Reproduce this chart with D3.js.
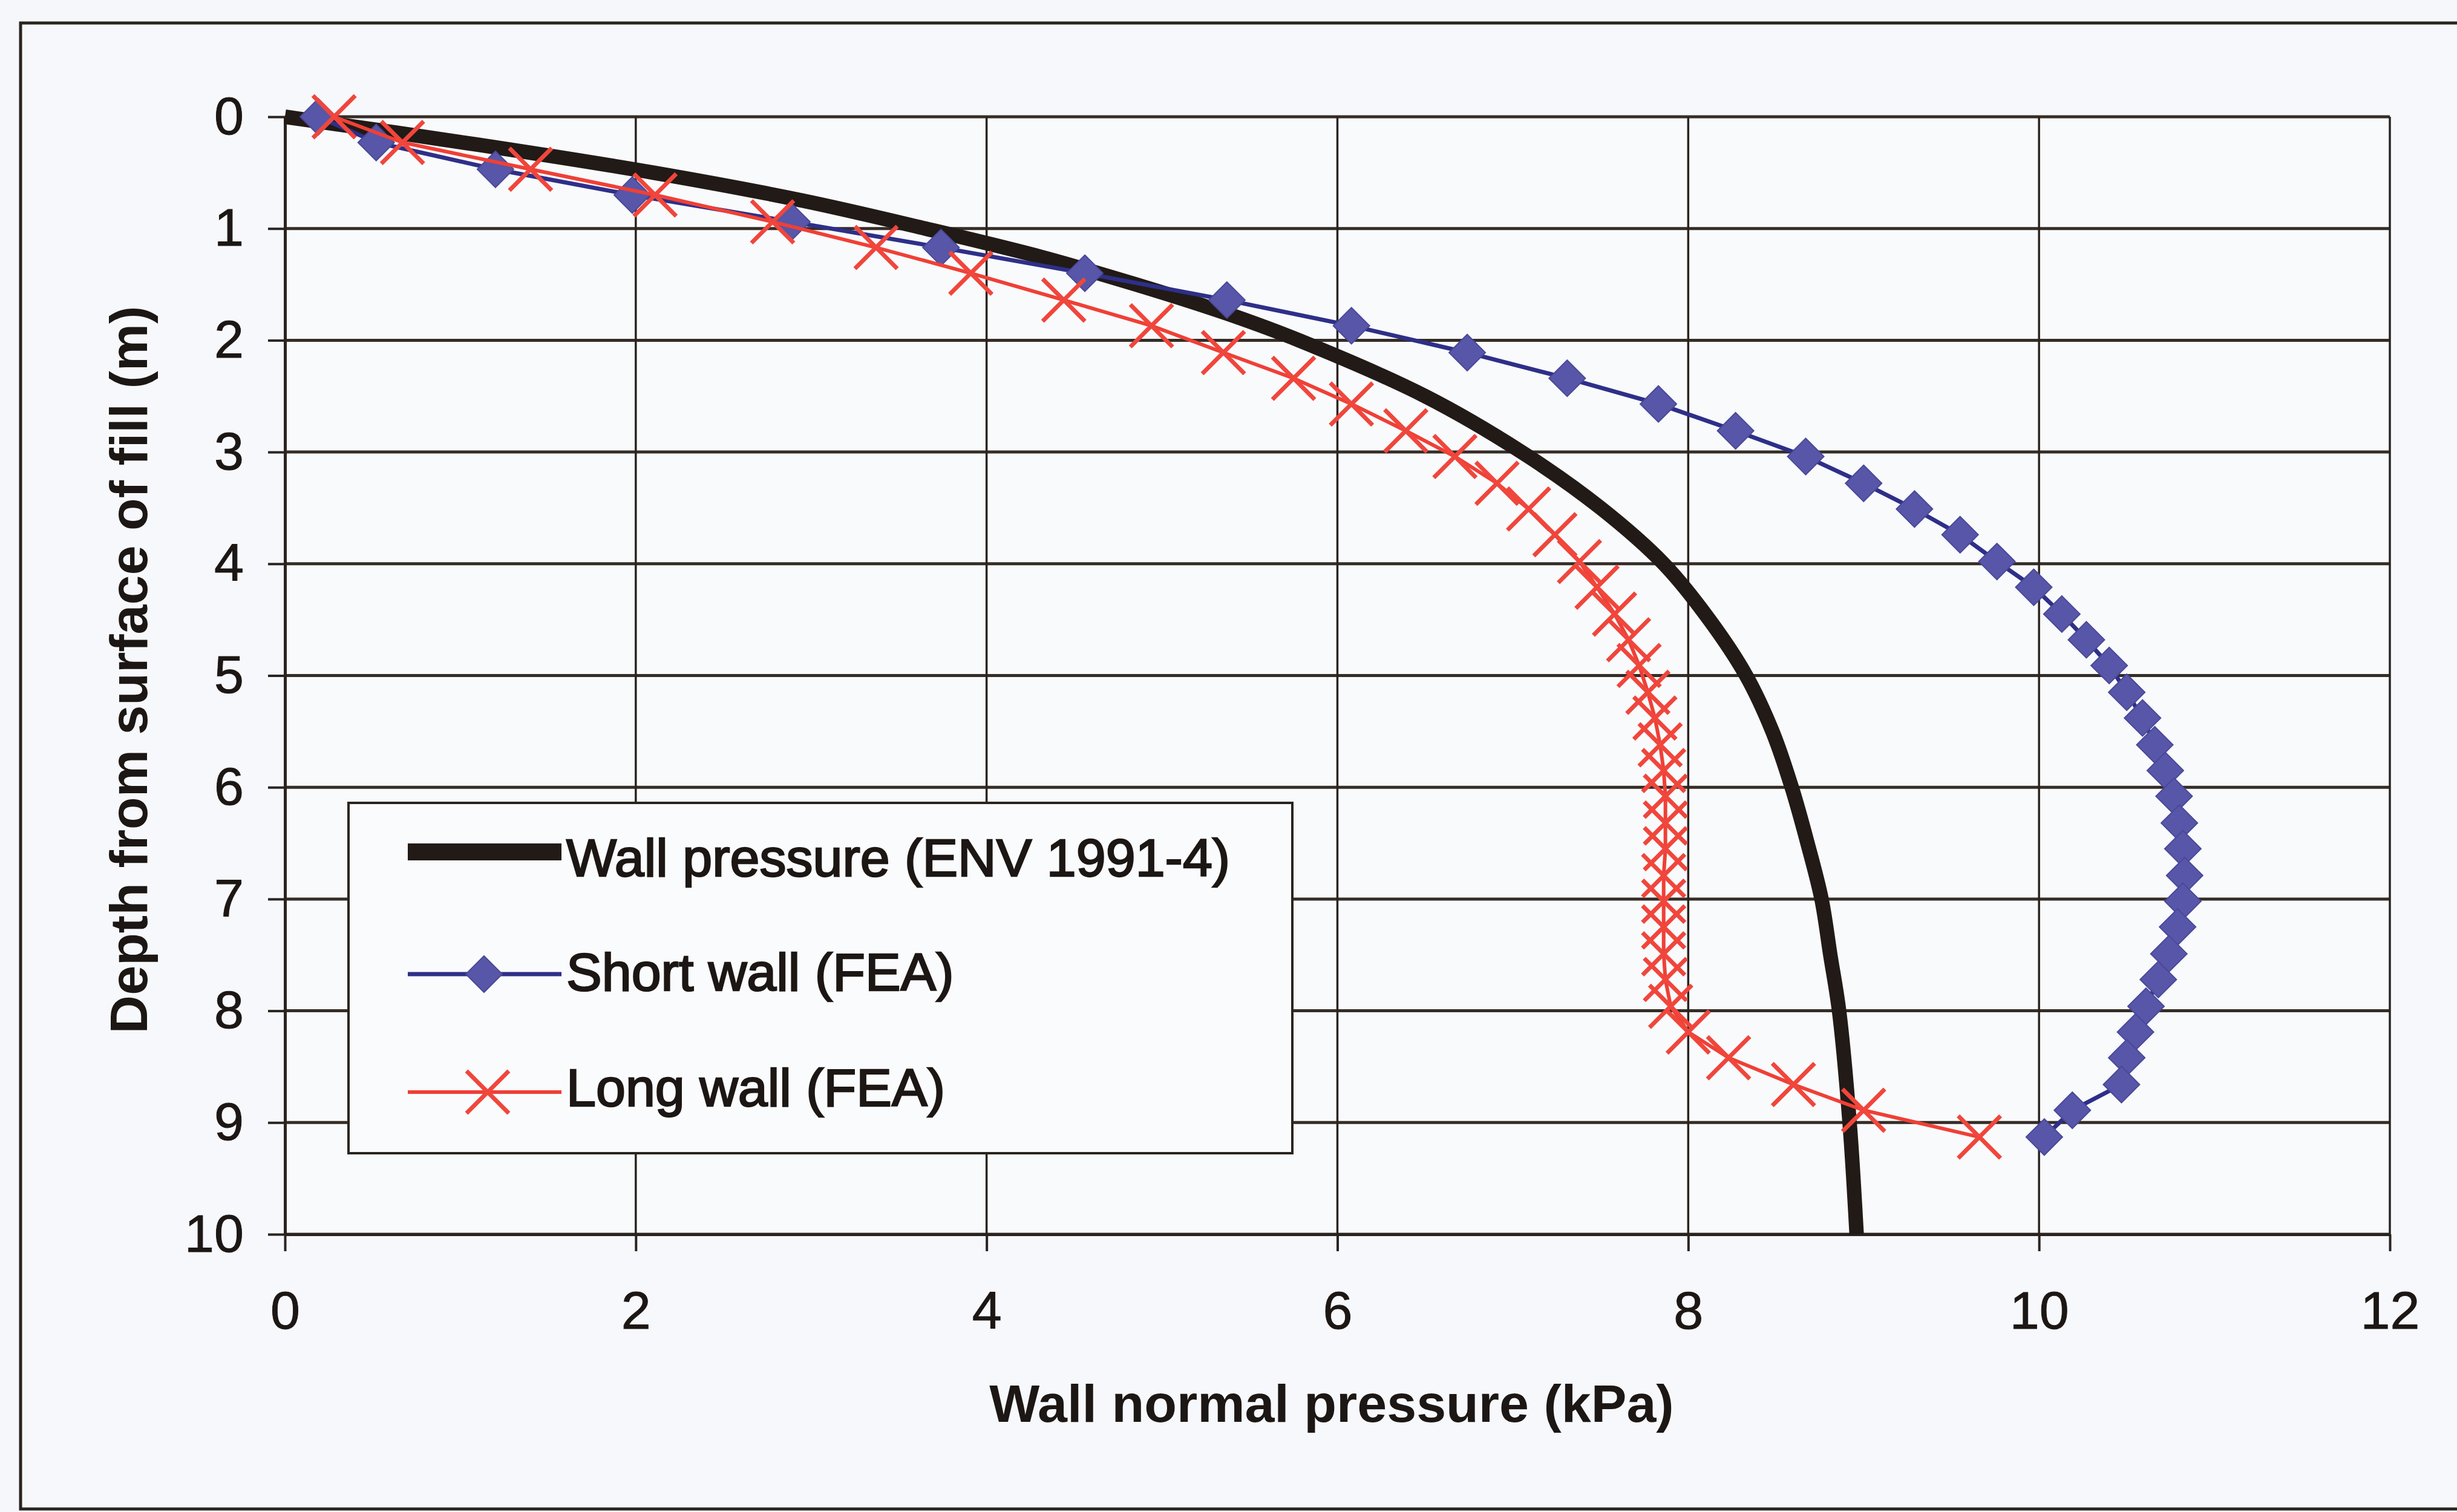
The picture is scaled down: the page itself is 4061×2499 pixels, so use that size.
<!DOCTYPE html>
<html>
<head>
<meta charset="utf-8">
<script src="https://cdn.jsdelivr.net/npm/d3@7"></script>
<style>
  html, body { margin: 0; padding: 0; background: #f6f7fb; }
  svg { display: block; }
  text { font-family: "Liberation Sans", Arial, sans-serif; fill: #1c1714; }
</style>
</head>
<body>
<svg id="chart" width="4061" height="2499"></svg>
<script>
// Depth ticks (m) and pressure ticks (kPa)
const depthTicks = [0, 1, 2, 3, 4, 5, 6, 7, 8, 9, 10];
const pressureTicks = [0, 2, 4, 6, 8, 10, 12];

// ENV 1991-4 wall pressure curve, depth (m) vs pressure (kPa)
const envDepth = [0, 0.25, 0.5, 0.75, 1, 1.25, 1.5, 1.75, 2, 2.5, 3, 3.5, 4, 4.5, 5, 5.5, 6, 6.5, 7, 7.5, 8, 9, 10];
const envPressure = [0, 1.1, 2.1, 2.95, 3.65, 4.3, 4.85, 5.35, 5.78, 6.5, 7.05, 7.5, 7.86, 8.12, 8.33, 8.48, 8.59, 8.68, 8.76, 8.81, 8.86, 8.92, 8.96];

// FEA node depths (m), shared by both walls
const feaDepth = [0, 0.23, 0.47, 0.70, 0.94, 1.17, 1.40, 1.64, 1.87, 2.11,
                  2.34, 2.57, 2.81, 3.04, 3.28, 3.51, 3.74, 3.98, 4.21, 4.45,
                  4.68, 4.91, 5.15, 5.38, 5.62, 5.85, 6.08, 6.32, 6.55, 6.79,
                  7.02, 7.25, 7.49, 7.72, 7.96, 8.19, 8.42, 8.66, 8.89, 9.13];

// Short wall (FEA) normal pressure (kPa)
const shortWall = [0.19, 0.52, 1.2, 1.98, 2.89, 3.74, 4.56, 5.37, 6.08, 6.74,
                   7.31, 7.83, 8.27, 8.67, 9.0, 9.29, 9.55, 9.76, 9.97, 10.13,
                   10.27, 10.40, 10.50, 10.59, 10.66, 10.72, 10.77, 10.80, 10.82, 10.83,
                   10.82, 10.79, 10.74, 10.68, 10.61, 10.55, 10.50, 10.47, 10.19, 10.03];

// Long wall (FEA) normal pressure (kPa)
const longWall = [0.28, 0.67, 1.4, 2.11, 2.78, 3.37, 3.91, 4.44, 4.94, 5.35,
                  5.75, 6.08, 6.39, 6.67, 6.91, 7.09, 7.24, 7.38, 7.48, 7.58,
                  7.66, 7.72, 7.77, 7.81, 7.84, 7.86, 7.87, 7.87, 7.87, 7.86,
                  7.86, 7.86, 7.86, 7.87, 7.90, 8.0, 8.23, 8.6, 9.0, 9.66];

const legendLabels = ["Wall pressure (ENV 1991-4)", "Short wall (FEA)", "Long wall (FEA)"];

const svg = d3.select("#chart");
const ink = "#2a2420";
const x = d3.scaleLinear().domain([0, 12]).range([471, 3950]);
const y = d3.scaleLinear().domain([0, 10]).range([193, 2040]);

// outer frame
svg.append("rect").attr("x", 34).attr("y", 38).attr("width", 4100).attr("height", 2456)
  .attr("fill", "#f7f8fb").attr("stroke", ink).attr("stroke-width", 5);

// plot area
svg.append("rect").attr("x", x(0)).attr("y", y(0))
  .attr("width", x(12) - x(0)).attr("height", y(10) - y(0))
  .attr("fill", "#f9fafc");

// gridlines
svg.append("g").selectAll("line").data(depthTicks).join("line")
  .attr("x1", x(0)).attr("x2", x(12)).attr("y1", d => y(d)).attr("y2", d => y(d))
  .attr("stroke", "#352d26").attr("stroke-width", 5);
svg.append("g").selectAll("line").data(pressureTicks).join("line")
  .attr("y1", y(0)).attr("y2", y(10)).attr("x1", d => x(d)).attr("x2", d => x(d))
  .attr("stroke", "#2a2420").attr("stroke-width", 3.5);

// axes
const yAxis = svg.append("g").attr("transform", `translate(${x(0)},0)`)
  .call(d3.axisLeft(y).tickValues(depthTicks).tickSize(28).tickPadding(40).tickSizeOuter(0));
const xAxis = svg.append("g").attr("transform", `translate(0,${y(10)})`)
  .call(d3.axisBottom(x).tickValues(pressureTicks).tickSize(28).tickPadding(66).tickSizeOuter(0));
[yAxis, xAxis].forEach(a => {
  a.select(".domain").attr("stroke", ink).attr("stroke-width", 5);
  a.selectAll(".tick line").attr("stroke", ink).attr("stroke-width", 4);
  a.selectAll(".tick text").attr("font-size", 88).attr("fill", "#1c1714")
    .attr("stroke", "#1c1714").attr("stroke-width", 1)
    .attr("font-family", "\"Liberation Sans\", Arial, sans-serif");
});

// axis titles
svg.append("text").attr("x", 2201).attr("y", 2350).attr("text-anchor", "middle")
  .attr("font-size", 88).attr("font-weight", "bold").text("Wall normal pressure (kPa)");
svg.append("text").attr("transform", "translate(243,1107) rotate(-90)").attr("text-anchor", "middle")
  .attr("font-size", 88).attr("font-weight", "bold").text("Depth from surface of fill (m)");

// ENV 1991-4 curve
const envPts = envDepth.map((d, i) => [envPressure[i], d]);
svg.append("path").datum(envPts)
  .attr("d", d3.line().x(p => x(p[0])).y(p => y(p[1])).curve(d3.curveCatmullRom.alpha(0.5)))
  .attr("fill", "none").attr("stroke", "#221a16").attr("stroke-width", 24).attr("stroke-linecap", "butt");

// Short wall
const shortPts = feaDepth.map((d, i) => [shortWall[i], d]);
svg.append("path").datum(shortPts)
  .attr("d", d3.line().x(p => x(p[0])).y(p => y(p[1])))
  .attr("fill", "none").attr("stroke", "#2e2f88").attr("stroke-width", 7);
const diamond = r => `M0,${-r}L${r},0L0,${r}L${-r},0Z`;
svg.append("g").selectAll("path").data(shortPts).join("path")
  .attr("transform", p => `translate(${x(p[0])},${y(p[1])})`)
  .attr("d", diamond(30)).attr("fill", "#5856a8").attr("stroke", "#4a4898").attr("stroke-width", 2);

// Long wall
const longPts = feaDepth.map((d, i) => [longWall[i], d]);
svg.append("path").datum(longPts)
  .attr("d", d3.line().x(p => x(p[0])).y(p => y(p[1])))
  .attr("fill", "none").attr("stroke", "#ef4036").attr("stroke-width", 6);
const cross = r => `M${-r},${-r}L${r},${r}M${-r},${r}L${r},${-r}`;
svg.append("g").selectAll("path").data(longPts).join("path")
  .attr("transform", p => `translate(${x(p[0])},${y(p[1])})`)
  .attr("d", cross(35)).attr("fill", "none").attr("stroke", "#f0463c").attr("stroke-width", 7);

// legend
const lg = svg.append("g");
lg.append("rect").attr("x", 576).attr("y", 1327).attr("width", 1560).attr("height", 579)
  .attr("fill", "#fafbfc").attr("stroke", ink).attr("stroke-width", 4);
const rows = [1408, 1610, 1805];
const bases = [1448, 1637, 1828];
lg.append("line").attr("x1", 674).attr("x2", 928).attr("y1", rows[0]).attr("y2", rows[0])
  .attr("stroke", "#221a16").attr("stroke-width", 28);
lg.append("line").attr("x1", 674).attr("x2", 928).attr("y1", rows[1]).attr("y2", rows[1])
  .attr("stroke", "#2e2f88").attr("stroke-width", 7);
lg.append("path").attr("transform", `translate(800,${rows[1]})`).attr("d", diamond(30))
  .attr("fill", "#5856a8").attr("stroke", "#4a4898").attr("stroke-width", 2);
lg.append("line").attr("x1", 674).attr("x2", 928).attr("y1", rows[2]).attr("y2", rows[2])
  .attr("stroke", "#ef4036").attr("stroke-width", 6);
lg.append("path").attr("transform", `translate(806,${rows[2]})`).attr("d", cross(35))
  .attr("fill", "none").attr("stroke", "#f0463c").attr("stroke-width", 7);
lg.selectAll("text").data(legendLabels).join("text")
  .attr("x", 936).attr("y", (d, i) => bases[i])
  .attr("font-size", 88).attr("stroke", "#1c1714").attr("stroke-width", 2.5)
  .text(d => d);
</script>
</body>
</html>
